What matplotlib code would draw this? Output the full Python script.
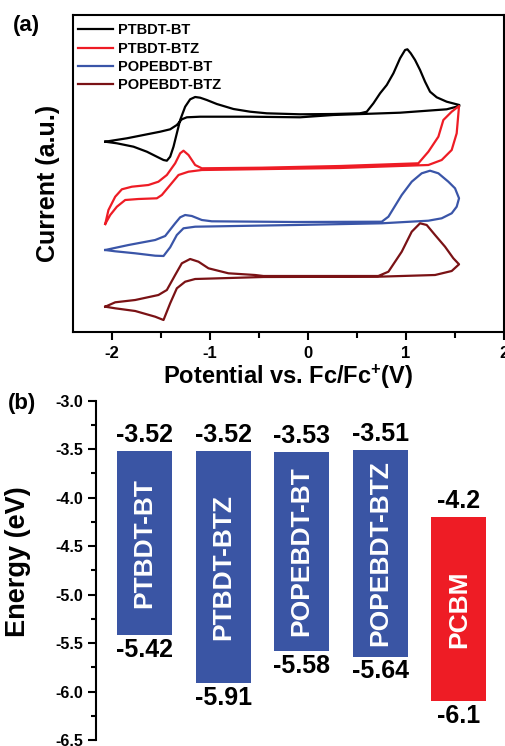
import numpy as np
import matplotlib
matplotlib.use("Agg")
import matplotlib.pyplot as plt
from matplotlib.ticker import MultipleLocator, FormatStrFormatter

plt.rcParams['font.family'] = ['Liberation Sans', 'DejaVu Sans']
plt.rcParams['font.weight'] = 'bold'
plt.rcParams['axes.unicode_minus'] = False
plt.rcParams['mathtext.fontset'] = 'custom'
plt.rcParams['mathtext.rm'] = 'Liberation Sans:bold'
plt.rcParams['mathtext.default'] = 'regular'

#### (a) cyclic voltammograms, potential (V vs Fc/Fc+) and current (a.u.)
bt_E = [-2.071, -1.952, -1.782, -1.646, -1.544, -1.476, -1.442, -1.408, -1.374,
        -1.340, -1.306, -1.255, -1.204, -1.153, -1.102, -1.034, -0.932, -0.762,
        -0.592, -0.422, -0.082, 0.258, 0.531, 0.599, 0.667, 0.735, 0.803, 0.871,
        0.939, 0.990, 1.014, 1.048, 1.092, 1.143, 1.194, 1.245, 1.313, 1.415,
        1.544, 1.544, 1.415, 0.939, 0.258, -0.082, -0.592, -1.102, -1.238,
        -1.289, -1.340, -1.408, -1.510, -1.680, -1.850, -2.071]
bt_I = [190.3, 188.7, 185.3, 180.3, 175.3, 172.0, 171.3, 175.3, 185.3, 198.7,
        212.0, 225.3, 232.7, 235.0, 234.3, 232.0, 228.0, 223.0, 220.3, 218.7,
        217.7, 218.0, 218.7, 220.3, 228.7, 238.7, 247.0, 258.7, 273.7, 282.0,
        282.7, 278.7, 272.0, 262.0, 250.3, 240.3, 234.7, 230.3, 227.0, 226.0,
        222.7, 219.3, 217.0, 214.7, 215.3, 215.3, 214.7, 212.7, 207.0, 202.7,
        200.3, 197.0, 193.7, 190.3]

btz_E = [-2.071, -2.038, -1.969, -1.901, -1.799, -1.630, -1.528, -1.442, -1.357,
         -1.306, -1.272, -1.221, -1.153, -1.085, -0.472, 0.327, 1.126, 1.228,
         1.330, 1.381, 1.466, 1.541, 1.517, 1.466, 1.364, 1.228, 0.327, -1.085,
         -1.221, -1.323, -1.408, -1.493, -1.544, -1.732, -1.867, -1.952, -2.020,
         -2.071]
btz_I = [108.0, 122.0, 135.3, 142.7, 145.3, 147.0, 150.3, 157.0, 168.7, 178.7,
         181.3, 177.0, 167.0, 163.7, 164.3, 166.0, 168.7, 180.3, 195.3, 212.0,
         220.3, 226.0, 198.7, 182.0, 172.0, 167.0, 164.0, 162.0, 160.3, 157.0,
         147.0, 137.0, 133.7, 133.0, 132.0, 125.3, 117.0, 108.0]

pbt_E = [-2.071, -1.833, -1.561, -1.459, -1.357, -1.306, -1.255, -1.187, -1.085,
         -0.983, -0.133, 0.752, 0.820, 0.956, 1.058, 1.160, 1.245, 1.330, 1.432,
         1.500, 1.541, 1.517, 1.466, 1.364, 1.228, 0.752, -0.133, -1.153, -1.272,
         -1.340, -1.408, -1.476, -1.561, -1.765, -1.969, -2.071]
pbt_I = [82.0, 87.0, 92.0, 96.0, 108.7, 114.7, 117.0, 116.0, 112.0, 110.7, 110.0,
         110.3, 115.3, 137.0, 150.3, 158.7, 161.3, 158.7, 150.3, 143.7, 133.7,
         125.3, 118.7, 113.7, 111.3, 108.7, 107.0, 105.3, 103.7, 97.0, 84.7, 76.0,
         76.3, 78.7, 80.7, 82.0]

pbtz_E = [-2.071, -1.969, -1.765, -1.528, -1.442, -1.357, -1.289, -1.204, -1.119,
          -1.017, -0.813, -0.541, -0.456, 0.717, 0.820, 0.956, 1.058, 1.143,
          1.211, 1.296, 1.398, 1.483, 1.541, 1.466, 1.296, 0.717, -0.456, -1.153,
          -1.255, -1.340, -1.408, -1.476, -1.561, -1.765, -1.969, -2.071]
pbtz_I = [25.3, 29.7, 32.0, 37.0, 42.0, 57.0, 68.7, 73.0, 70.3, 63.7, 58.7, 57.0,
          56.0, 56.0, 60.3, 80.3, 100.3, 108.7, 107.0, 97.0, 85.3, 73.7, 67.7,
          61.0, 57.0, 55.3, 55.0, 53.0, 50.3, 43.7, 28.7, 12.0, 15.3, 21.0, 23.7,
          25.3]

cv_names = ['PTBDT-BT', 'PTBDT-BTZ', 'POPEBDT-BT', 'POPEBDT-BTZ']
cv_colors = ['#000000', '#EE1C25', '#3A55A8', '#7A1215']

#### (b) energy levels (eV)
materials = ['PTBDT-BT', 'PTBDT-BTZ', 'POPEBDT-BT', 'POPEBDT-BTZ', 'PCBM']
lumo = [-3.52, -3.52, -3.53, -3.51, -4.2]
homo = [-5.42, -5.91, -5.58, -5.64, -6.1]
lumo_txt = ['-3.52', '-3.52', '-3.53', '-3.51', '-4.2']
homo_txt = ['-5.42', '-5.91', '-5.58', '-5.64', '-6.1']
bar_colors = ['#3A55A4', '#3A55A4', '#3A55A4', '#3A55A4', '#EE1C25']

W, H = 505, 746
fig = plt.figure(figsize=(W / 100, H / 100), dpi=100)

### top panel
ax1 = fig.add_axes([73 / W, 1 - 332 / H, (504 - 73) / W, (332 - 15) / H])
curves = [(bt_E, bt_I), (btz_E, btz_I), (pbt_E, pbt_I), (pbtz_E, pbtz_I)]
for (E, I), name, col in zip(curves, cv_names, cv_colors):
    ax1.plot(E, I, color=col, lw=1.6, label=name)
ax1.set_xlim(-2.4, 2.0)
ax1.set_ylim(0, 317)
ax1.set_yticks([])
ax1.xaxis.set_major_locator(MultipleLocator(1))
ax1.xaxis.set_minor_locator(MultipleLocator(0.5))
ax1.tick_params(axis='x', which='major', direction='out', length=6, width=1.5,
                labelsize=12, pad=4)
ax1.tick_params(axis='x', which='minor', direction='out', length=4, width=1.5)
for s in ax1.spines.values():
    s.set_linewidth(1.5)
ax1.set_xlabel('Potential vs. Fc/Fc$^{+}$(V)', fontsize=17, fontweight='bold',
               labelpad=1)
ax1.set_ylabel('Current (a.u.)', fontsize=18, fontweight='bold')
ax1.yaxis.set_label_coords(-0.030, 0.47)
leg = ax1.legend(loc='upper left', bbox_to_anchor=(0.011, 0.974), frameon=False,
                 fontsize=10.5, handlelength=2.4, handletextpad=0.34,
                 labelspacing=0.30, borderpad=0, borderaxespad=0)
for t in leg.get_texts():
    t.set_fontweight('bold')
fig.text(13 / W, 1 - 26 / H, '(a)', fontsize=16, fontweight='bold', va='center')

### bottom panel
ax2 = fig.add_axes([96 / W, 1 - 740 / H, (W - 96) / W, (740 - 400.7) / H])
x = np.arange(len(materials))
heights = [h - l for h, l in zip(homo, lumo)]
ax2.bar(x, heights, bottom=lumo, width=0.7, color=bar_colors)
ax2.set_xlim(-0.617, 4.587)
ax2.set_ylim(-6.5, -3.0)
for sp in ['top', 'right', 'bottom']:
    ax2.spines[sp].set_visible(False)
ax2.spines['left'].set_linewidth(1.5)
ax2.set_xticks([])
ax2.yaxis.set_major_locator(MultipleLocator(0.5))
ax2.yaxis.set_minor_locator(MultipleLocator(0.25))
ax2.yaxis.set_major_formatter(FormatStrFormatter('%.1f'))
ax2.tick_params(axis='y', which='major', direction='out', length=6, width=1.5,
                labelsize=11.5, pad=3)
ax2.tick_params(axis='y', which='minor', direction='out', length=3.5, width=1.5)
ax2.set_ylabel('Energy (eV)', fontsize=19.5, fontweight='bold')
ax2.yaxis.set_label_coords(-0.160, 0.525)
for xi, l, h, lt, ht, name in zip(x, lumo, homo, lumo_txt, homo_txt, materials):
    ax2.annotate(lt, (xi, l), xytext=(0, 3), textcoords='offset points',
                 ha='center', va='bottom', fontsize=18, fontweight='bold')
    ax2.annotate(ht, (xi, h), xytext=(0, -2), textcoords='offset points',
                 ha='center', va='top', fontsize=18, fontweight='bold')
    ax2.text(xi, (l + h) / 2, name, rotation=90, ha='center', va='center',
             color='white', fontsize=19, fontweight='bold')
fig.text(8 / W, 1 - 403 / H, '(b)', fontsize=16, fontweight='bold', va='center')

fig.savefig('out.png', dpi=100)
